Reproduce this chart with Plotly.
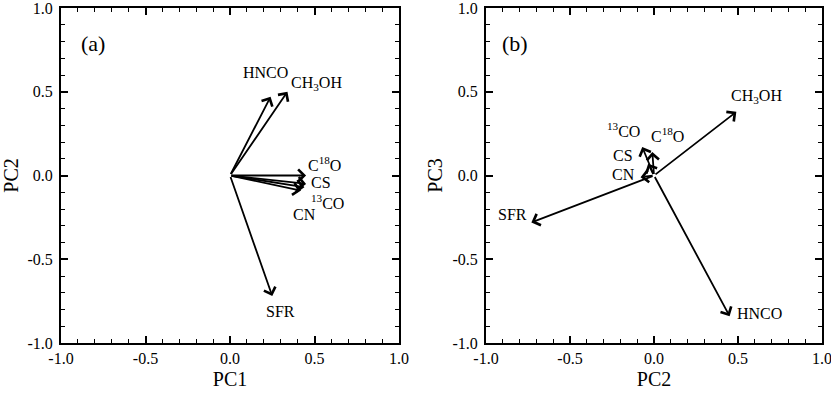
import plotly.graph_objects as go

# loadings
species = ["HNCO", "CH<sub>3</sub>OH", "C<sup>18</sup>O", "CS", "<sup>13</sup>CO", "CN", "SFR"]
pc1 = [0.24, 0.34, 0.45, 0.45, 0.44, 0.42, 0.25]
pc2 = [0.47, 0.50, 0.00, -0.05, -0.07, -0.09, -0.72]

species_b = ["CH<sub>3</sub>OH", "<sup>13</sup>CO", "C<sup>18</sup>O", "CS", "CN", "SFR", "HNCO"]
pc2_b = [0.49, -0.07, -0.01, -0.035, -0.08, -0.73, 0.45]
pc3_b = [0.38, 0.17, 0.14, 0.07, -0.01, -0.28, -0.84]

tick_vals = [-1, -0.5, 0, 0.5, 1]
tick_text = ["-1.0", "-0.5", "0.0", "0.5", "1.0"]

# label offsets from the arrow tips (data units)
off_a = [(-0.03, 0.145), (0.17, 0.05), (0.11, 0.07), (0.09, 0.01), (0.135, -0.09), (0.02, -0.14), (0.05, -0.09)]
off_b = [(0.12, 0.09), (-0.11, 0.10), (0.09, 0.10), (-0.15, 0.05), (-0.1, 0.015), (-0.115, 0.05), (0.18, 0.015)]

FONT = "Liberation Serif"

fig = go.Figure()
# invisible traces so both axis pairs exist
fig.add_trace(go.Scatter(x=[0], y=[0], mode="markers", marker=dict(opacity=0), xaxis="x", yaxis="y", showlegend=False, hoverinfo="skip"))
fig.add_trace(go.Scatter(x=[0], y=[0], mode="markers", marker=dict(opacity=0), xaxis="x2", yaxis="y2", showlegend=False, hoverinfo="skip"))

anns = []

def add_panel(names, xs, ys, offs, xr, yr):
    for n, x, y, (dx, dy) in zip(names, xs, ys, offs):
        anns.append(dict(x=x, y=y, ax=0, ay=0, xref=xr, yref=yr, axref=xr, ayref=yr,
                         showarrow=True, arrowhead=4, arrowsize=1.3, arrowwidth=1.8,
                         arrowcolor="black", text=""))
        anns.append(dict(x=x + dx, y=y + dy, xref=xr, yref=yr, showarrow=False,
                         text=n, font=dict(family=FONT, size=16, color="black")))

add_panel(species, pc1, pc2, off_a, "x", "y")
add_panel(species_b, pc2_b, pc3_b, off_b, "x2", "y2")
anns.append(dict(x=-0.81, y=0.79, xref="x", yref="y", showarrow=False, text="(a)",
                 font=dict(family=FONT, size=22, color="black")))
anns.append(dict(x=-0.83, y=0.79, xref="x2", yref="y2", showarrow=False, text="(b)",
                 font=dict(family=FONT, size=22, color="black")))

ax_style = dict(range=[-1, 1], tickvals=tick_vals, ticktext=tick_text,
                ticks="inside", ticklen=7, tickwidth=1.5, tickcolor="black",
                minor=dict(dtick=0.1, ticks="inside", ticklen=4, tickwidth=1.2, tickcolor="black"),
                showline=True, linecolor="black", linewidth=2, mirror="ticks",
                showgrid=False, zeroline=False, automargin=False, ticklabeloverflow="allow",
                tickfont=dict(family=FONT, size=16, color="black"),
                title_font=dict(family=FONT, size=20, color="black"))

fig.update_layout(
    width=831, height=397,
    margin=dict(l=61, r=9, t=8, b=54),
    plot_bgcolor="white", paper_bgcolor="white",
    xaxis=dict(ax_style, domain=[0, 0.4442], anchor="y", title=dict(text="PC1", standoff=6)),
    yaxis=dict(ax_style, anchor="x", ticklabelstandoff=3, title=dict(text="PC2", standoff=4)),
    xaxis2=dict(ax_style, domain=[0.5585, 1], anchor="y2", title=dict(text="PC2", standoff=6)),
    yaxis2=dict(ax_style, anchor="x2", ticklabelstandoff=3, title=dict(text="PC3", standoff=4)),
    annotations=anns,
)

fig.write_html("out.html", config={"displayModeBar": False},
               post_script="document.body.style.margin='0';")
